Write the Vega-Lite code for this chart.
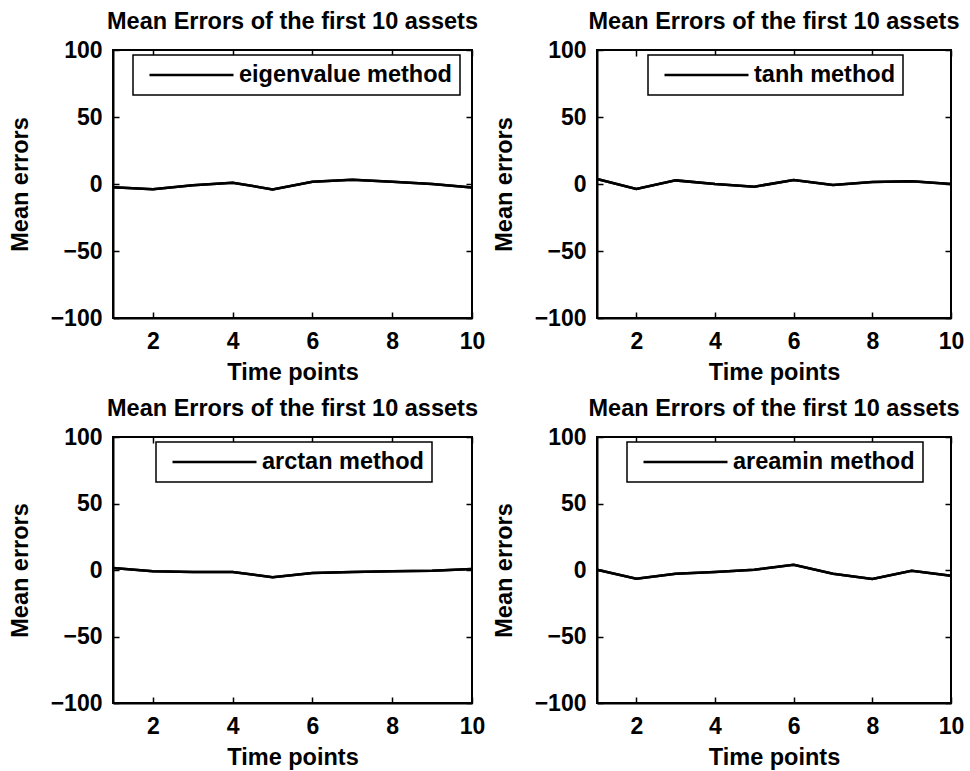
{
  "$schema": "https://vega.github.io/schema/vega-lite/v6.json",
  "background": "white",
  "padding": {"left": 7, "top": 8, "right": 5, "bottom": 5},
  "datasets": {
    "errors": [
      {"method": "eigenvalue method", "t": 1, "err": -2.5},
      {"method": "eigenvalue method", "t": 2, "err": -4},
      {"method": "eigenvalue method", "t": 3, "err": -1},
      {"method": "eigenvalue method", "t": 4, "err": 1},
      {"method": "eigenvalue method", "t": 5, "err": -4},
      {"method": "eigenvalue method", "t": 6, "err": 1.7},
      {"method": "eigenvalue method", "t": 7, "err": 3.2},
      {"method": "eigenvalue method", "t": 8, "err": 1.7},
      {"method": "eigenvalue method", "t": 9, "err": 0},
      {"method": "eigenvalue method", "t": 10, "err": -2.7},
      {"method": "tanh method", "t": 1, "err": 3.7},
      {"method": "tanh method", "t": 2, "err": -3.7},
      {"method": "tanh method", "t": 3, "err": 2.7},
      {"method": "tanh method", "t": 4, "err": 0},
      {"method": "tanh method", "t": 5, "err": -2},
      {"method": "tanh method", "t": 6, "err": 3},
      {"method": "tanh method", "t": 7, "err": -0.7},
      {"method": "tanh method", "t": 8, "err": 1.5},
      {"method": "tanh method", "t": 9, "err": 2},
      {"method": "tanh method", "t": 10, "err": 0},
      {"method": "arctan method", "t": 1, "err": 1.5},
      {"method": "arctan method", "t": 2, "err": -1},
      {"method": "arctan method", "t": 3, "err": -1.5},
      {"method": "arctan method", "t": 4, "err": -1.5},
      {"method": "arctan method", "t": 5, "err": -5.5},
      {"method": "arctan method", "t": 6, "err": -2.25},
      {"method": "arctan method", "t": 7, "err": -1.5},
      {"method": "arctan method", "t": 8, "err": -1},
      {"method": "arctan method", "t": 9, "err": -0.5},
      {"method": "arctan method", "t": 10, "err": 0.75},
      {"method": "areamin method", "t": 1, "err": 0.25},
      {"method": "areamin method", "t": 2, "err": -6.5},
      {"method": "areamin method", "t": 3, "err": -2.75},
      {"method": "areamin method", "t": 4, "err": -1.5},
      {"method": "areamin method", "t": 5, "err": 0.25},
      {"method": "areamin method", "t": 6, "err": 4},
      {"method": "areamin method", "t": 7, "err": -2.75},
      {"method": "areamin method", "t": 8, "err": -6.75},
      {"method": "areamin method", "t": 9, "err": -0.5},
      {"method": "areamin method", "t": 10, "err": -4.25}
    ]
  },
  "bounds": "flush",
  "columns": 2,
  "spacing": {"row": 119, "column": 125},
  "resolve": {"scale": {"color": "independent"}, "legend": {"color": "independent"}},
  "concat": [
    {
      "width": 359, "height": 268,
      "title": "Mean Errors of the first 10 assets",
      "data": {"name": "errors"},
      "transform": [{"filter": "datum.method === 'eigenvalue method'"}],
      "resolve": {"axis": {"x": "independent", "y": "independent"}},
      "layer": [
        {
          "mark": {"type": "line"},
          "encoding": {
            "x": {"field": "t", "type": "quantitative", "title": "Time points", "scale": {"domain": [1, 10], "nice": false, "zero": false}, "axis": {"values": [2, 4, 6, 8, 10]}},
            "y": {"field": "err", "type": "quantitative", "title": "Mean errors", "scale": {"domain": [-100, 100], "nice": false}, "axis": {"values": [-100, -50, 0, 50, 100]}},
            "color": {"field": "method", "type": "nominal", "scale": {"range": ["black"]}, "legend": {"orient": "none", "legendX": 20, "legendY": 5}}
          }
        },
        {
          "mark": {"type": "line"},
          "encoding": {
            "x": {"field": "t", "type": "quantitative", "axis": {"orient": "top", "values": [2, 4, 6, 8, 10], "labels": false, "title": null, "domain": false}},
            "y": {"field": "err", "type": "quantitative", "axis": {"orient": "right", "values": [-100, -50, 0, 50, 100], "labels": false, "title": null, "domain": false}},
            "color": {"field": "method", "type": "nominal"}
          }
        }
      ]
    },
    {
      "width": 354, "height": 268,
      "title": "Mean Errors of the first 10 assets",
      "data": {"name": "errors"},
      "transform": [{"filter": "datum.method === 'tanh method'"}],
      "resolve": {"axis": {"x": "independent", "y": "independent"}},
      "layer": [
        {
          "mark": {"type": "line"},
          "encoding": {
            "x": {"field": "t", "type": "quantitative", "title": "Time points", "scale": {"domain": [1, 10], "nice": false, "zero": false}, "axis": {"values": [2, 4, 6, 8, 10]}},
            "y": {"field": "err", "type": "quantitative", "title": "Mean errors", "scale": {"domain": [-100, 100], "nice": false}, "axis": {"values": [-100, -50, 0, 50, 100]}},
            "color": {"field": "method", "type": "nominal", "scale": {"range": ["black"]}, "legend": {"orient": "none", "legendX": 51, "legendY": 5}}
          }
        },
        {
          "mark": {"type": "line"},
          "encoding": {
            "x": {"field": "t", "type": "quantitative", "axis": {"orient": "top", "values": [2, 4, 6, 8, 10], "labels": false, "title": null, "domain": false}},
            "y": {"field": "err", "type": "quantitative", "axis": {"orient": "right", "values": [-100, -50, 0, 50, 100], "labels": false, "title": null, "domain": false}},
            "color": {"field": "method", "type": "nominal"}
          }
        }
      ]
    },
    {
      "width": 359, "height": 266,
      "title": "Mean Errors of the first 10 assets",
      "data": {"name": "errors"},
      "transform": [{"filter": "datum.method === 'arctan method'"}],
      "resolve": {"axis": {"x": "independent", "y": "independent"}},
      "layer": [
        {
          "mark": {"type": "line"},
          "encoding": {
            "x": {"field": "t", "type": "quantitative", "title": "Time points", "scale": {"domain": [1, 10], "nice": false, "zero": false}, "axis": {"values": [2, 4, 6, 8, 10]}},
            "y": {"field": "err", "type": "quantitative", "title": "Mean errors", "scale": {"domain": [-100, 100], "nice": false}, "axis": {"values": [-100, -50, 0, 50, 100]}},
            "color": {"field": "method", "type": "nominal", "scale": {"range": ["black"]}, "legend": {"orient": "none", "legendX": 43, "legendY": 5}}
          }
        },
        {
          "mark": {"type": "line"},
          "encoding": {
            "x": {"field": "t", "type": "quantitative", "axis": {"orient": "top", "values": [2, 4, 6, 8, 10], "labels": false, "title": null, "domain": false}},
            "y": {"field": "err", "type": "quantitative", "axis": {"orient": "right", "values": [-100, -50, 0, 50, 100], "labels": false, "title": null, "domain": false}},
            "color": {"field": "method", "type": "nominal"}
          }
        }
      ]
    },
    {
      "width": 354, "height": 266,
      "title": "Mean Errors of the first 10 assets",
      "data": {"name": "errors"},
      "transform": [{"filter": "datum.method === 'areamin method'"}],
      "resolve": {"axis": {"x": "independent", "y": "independent"}},
      "layer": [
        {
          "mark": {"type": "line"},
          "encoding": {
            "x": {"field": "t", "type": "quantitative", "title": "Time points", "scale": {"domain": [1, 10], "nice": false, "zero": false}, "axis": {"values": [2, 4, 6, 8, 10]}},
            "y": {"field": "err", "type": "quantitative", "title": "Mean errors", "scale": {"domain": [-100, 100], "nice": false}, "axis": {"values": [-100, -50, 0, 50, 100]}},
            "color": {"field": "method", "type": "nominal", "scale": {"range": ["black"]}, "legend": {"orient": "none", "legendX": 30, "legendY": 5}}
          }
        },
        {
          "mark": {"type": "line"},
          "encoding": {
            "x": {"field": "t", "type": "quantitative", "axis": {"orient": "top", "values": [2, 4, 6, 8, 10], "labels": false, "title": null, "domain": false}},
            "y": {"field": "err", "type": "quantitative", "axis": {"orient": "right", "values": [-100, -50, 0, 50, 100], "labels": false, "title": null, "domain": false}},
            "color": {"field": "method", "type": "nominal"}
          }
        }
      ]
    }
  ],
  "config": {
    "font": "Liberation Sans",
    "view": {"stroke": "black", "strokeWidth": 2},
    "line": {"strokeWidth": 2.5, "color": "black"},
    "axis": {
      "grid": false,
      "domainColor": "black",
      "domainWidth": 2,
      "tickColor": "black",
      "tickWidth": 1.5,
      "tickSize": -6,
      "labelFont": "Liberation Sans",
      "labelFontSize": 23,
      "labelFontWeight": "bold",
      "labelColor": "black",
      "labelOverlap": false,
      "labelFlush": false,
      "titleFont": "Liberation Sans",
      "titleFontSize": 23.5,
      "titleFontWeight": "bold",
      "titleColor": "black"
    },
    "axisX": {"labelPadding": 18, "titlePadding": 7},
    "axisY": {"labelPadding": 17, "titlePadding": 18},
    "title": {
      "font": "Liberation Sans",
      "fontSize": 23.5,
      "fontWeight": "bold",
      "color": "black",
      "frame": "group",
      "baseline": "alphabetic",
      "offset": 6
    },
    "legend": {
      "title": null,
      "labelFont": "Liberation Sans",
      "labelFontSize": 23.5,
      "labelFontWeight": "bold",
      "labelColor": "black",
      "labelLimit": 0,
      "symbolType": "M-4,0H4",
      "symbolSize": 441,
      "symbolStrokeWidth": 2,
      "symbolStrokeColor": "black",
      "symbolOffset": 38.5,
      "labelOffset": 35.5,
      "padding": 8,
      "strokeColor": "black",
      "strokeWidth": 1.5,
      "fillColor": "white"
    }
  }
}
